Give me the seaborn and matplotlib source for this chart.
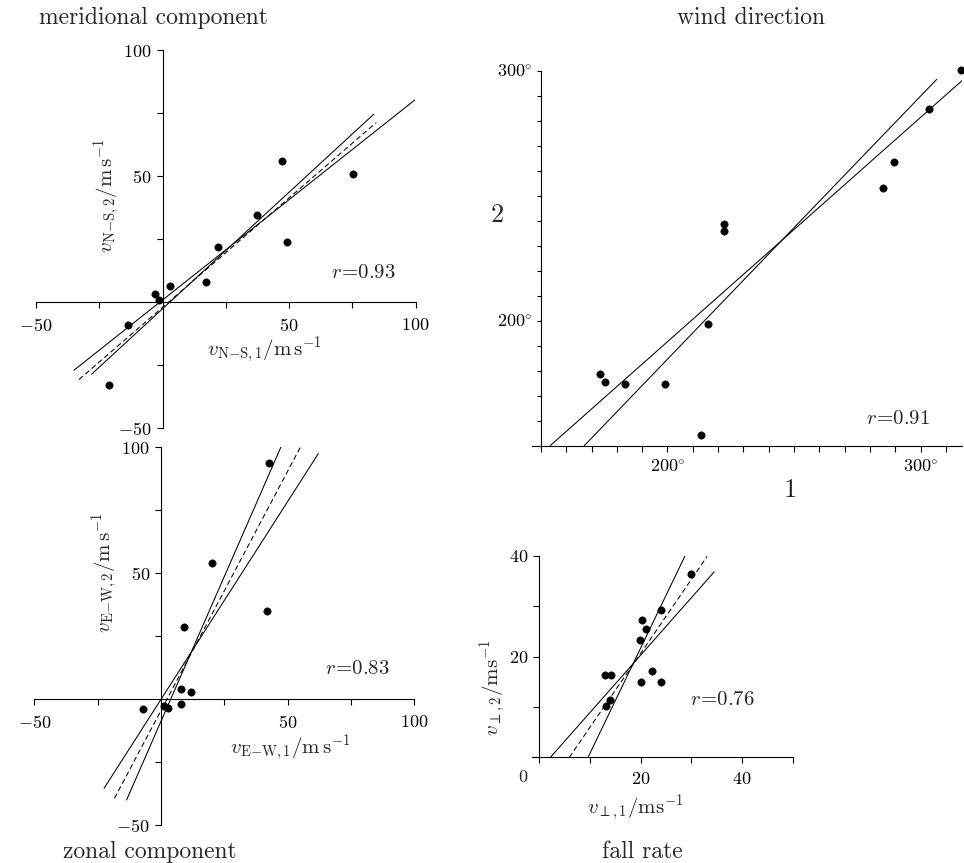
import numpy as np
import pandas as pd
import matplotlib
matplotlib.use("Agg")
import matplotlib.pyplot as plt
from matplotlib.ticker import FixedLocator, FixedFormatter
import seaborn as sns

# ---------------- data ----------------
# meridional component (m/s)
ns_v1 = [-21.1, -13.7, -2.9, -1.2, 3.0, 17.1, 22.0, 37.2, 47.1, 49.2, 75.1]
ns_v2 = [-33.0, -9.0, 3.1, 0.9, 6.4, 8.2, 22.1, 34.5, 56.2, 24.1, 51.1]
ns_fit_x0 = [-35.0, -28.0, -33.0]
ns_fit_x1 = [100.5, 83.5, 84.5]
ns_fit_slope = [0.796, 0.925, 0.868]
ns_fit_icept = [0.9, -2.6, -2.0]
ns_r = "0.93"

# zonal component (m/s)
ew_v1 = [-7.2, 1.2, 2.9, 7.8, 8.0, 12.0, 8.9, 20.3, 42.0, 42.5]
ew_v2 = [-4.0, -2.6, -3.6, -1.9, 4.0, 3.0, 28.8, 54.2, 34.9, 93.7]
ew_fit_x0 = [-13.6, -18.4, -22.5]
ew_fit_x1 = [47.4, 55.1, 62.1]
ew_fit_slope = [2.30, 1.90, 1.571]
ew_fit_icept = [-8.7, -4.4, 0.0]
ew_r = "0.83"

# wind direction (degrees)
dir_1 = [173.2, 175.4, 183.2, 199.1, 213.4, 216.1, 222.3, 222.5, 285.0, 289.4, 303.2, 315.9]
dir_2 = [178.5, 175.6, 174.5, 174.5, 154.1, 198.6, 238.7, 235.8, 253.2, 263.3, 284.5, 300.1]
dir_fit_x0 = [153.6, 167.1]
dir_fit_x1 = [317.2, 306.4]
dir_fit_slope = [0.897, 1.052]
dir_fit_icept = [12.2, -25.8]
dir_r = "0.91"

# fall rate (m/s)
fall_1 = [30.0, 24.0, 20.3, 21.1, 19.8, 12.9, 14.1, 22.2, 20.0, 24.0, 14.0, 13.2]
fall_2 = [36.4, 29.2, 27.2, 25.4, 23.2, 16.3, 16.3, 17.2, 15.0, 15.0, 11.3, 10.2]
fall_fit_x0 = [9.6, 5.9, 2.2]
fall_fit_x1 = [28.8, 33.1, 34.5]
fall_fit_slope = [2.09, 1.467, 1.139]
fall_fit_icept = [-20.1, -8.7, -2.5]
fall_r = "0.76"

# tick values / labels
comp_ticks = [-50, -25, 25, 50, 75, 100]
comp_labels = ["$-50$", "", "", "$50$", "", "$100$"]
dir_ticks = list(range(150, 311, 10))
dir_yticks = list(range(150, 301, 10))
dir_ylabels = ["$200^{\\circ}$" if t == 200 else ("$300^{\\circ}$" if t == 300 else "") for t in dir_yticks]
dir_xlabels = ["$200^{\\circ}$" if t == 200 else ("$300^{\\circ}$" if t == 300 else "") for t in dir_ticks]
fall_xticks = [0, 10, 20, 30, 40, 50]
fall_xlabels = ["", "", "$20$", "", "$40$", ""]
fall_yticks = [0, 10, 20, 30, 40]
fall_ylabels = ["", "", "$20$", "", "$40$"]

# ---------------- styling ----------------
sns.set_theme(style="white")
plt.rcParams["font.family"] = ["cmr10", "DejaVu Serif"]
plt.rcParams["mathtext.fontset"] = "cm"
plt.rcParams["axes.unicode_minus"] = False

W, H = 964, 863
fig = plt.figure(figsize=(W / 100, H / 100), dpi=100)
fig.patch.set_facecolor("white")

LW = 0.8
TICK_FS = 13
R_FS = 15


def rect(l, t, r, b):
    return [l / W, 1 - b / H, (r - l) / W, (b - t) / H]


def style_axes(ax, xpos, ypos, xpad=6.0, ypad=3.5):
    ax.set_facecolor("white")
    for s in ["top", "right"]:
        ax.spines[s].set_visible(False)
    ax.spines["left"].set_position(("data", xpos))
    ax.spines["bottom"].set_position(("data", ypos))
    for s in ["left", "bottom"]:
        ax.spines[s].set_color("black")
        ax.spines[s].set_linewidth(LW)
    ax.tick_params(axis="both", which="both", direction="out", length=4.5, width=LW,
                   colors="black", labelsize=TICK_FS, bottom=True, left=True,
                   top=False, right=False)
    ax.tick_params(axis="x", pad=xpad)
    ax.tick_params(axis="y", pad=ypad)
    ax.grid(False)


def draw_fits(ax, x0s, x1s, slopes, icepts, styles):
    for x0, x1, m, c, ls in zip(x0s, x1s, slopes, icepts, styles):
        xs = np.array([x0, x1])
        if ls == "--":
            ax.plot(xs, m * xs + c, color="black", lw=0.75, ls="--", dashes=(5, 3))
        else:
            ax.plot(xs, m * xs + c, color="black", lw=0.75, ls="-")


def draw_points(ax, x, y):
    df = pd.DataFrame({"x": x, "y": y})
    sns.scatterplot(data=df, x="x", y="y", ax=ax, color="black", s=28,
                    edgecolor="black", linewidth=0.4, clip_on=False, zorder=5)


def r_text(px, py, val):
    fig.text(px / W, 1 - py / H, r"$r\!=\!" + val + "$", fontsize=R_FS,
             ha="center", va="center")


# ---------------- panel 1: meridional ----------------
ax1 = fig.add_axes(rect(36, 50.3, 415.5, 428.3))
draw_fits(ax1, ns_fit_x0, ns_fit_x1, ns_fit_slope, ns_fit_icept, ["-", "-", "--"])
draw_points(ax1, ns_v1, ns_v2)
ax1.set_xlim(-50, 100)
ax1.set_ylim(-50, 100)
style_axes(ax1, 0, 0)
ax1.xaxis.set_major_locator(FixedLocator(comp_ticks))
ax1.xaxis.set_major_formatter(FixedFormatter(comp_labels))
ax1.yaxis.set_major_locator(FixedLocator(comp_ticks))
ax1.yaxis.set_major_formatter(FixedFormatter(comp_labels))
ax1.set_xlabel(r"$v_{\mathrm{N}{-}\mathrm{S},1}/\mathrm{m\,s^{-1}}$", fontsize=15, va="center", ha="center")
ax1.xaxis.set_label_coords(0.601, 0.207)
ax1.set_ylabel(r"$v_{\mathrm{N}{-}\mathrm{S},2}/\mathrm{m\,s^{-1}}$", fontsize=15, va="center", ha="center")
ax1.yaxis.set_label_coords(0.187, 0.617)
r_text(363, 273, ns_r)

# ---------------- panel 2: zonal ----------------
ax2 = fig.add_axes(rect(34.4, 447.5, 414.3, 825.2))
draw_fits(ax2, ew_fit_x0, ew_fit_x1, ew_fit_slope, ew_fit_icept, ["-", "--", "-"])
draw_points(ax2, ew_v1, ew_v2)
ax2.set_xlim(-50, 100)
ax2.set_ylim(-50, 100)
style_axes(ax2, 0, 0)
ax2.xaxis.set_major_locator(FixedLocator(comp_ticks))
ax2.xaxis.set_major_formatter(FixedFormatter(comp_labels))
ax2.yaxis.set_major_locator(FixedLocator(comp_ticks))
ax2.yaxis.set_major_formatter(FixedFormatter(comp_labels))
ax2.set_xlabel(r"$v_{\mathrm{E}{-}\mathrm{W},1}/\mathrm{m\,s^{-1}}$", fontsize=15, va="center", ha="center")
ax2.xaxis.set_label_coords(0.675, 0.204)
ax2.set_ylabel(r"$v_{\mathrm{E}{-}\mathrm{W},2}/\mathrm{m\,s^{-1}}$", fontsize=15, va="center", ha="center")
ax2.yaxis.set_label_coords(0.186, 0.670)
r_text(357, 669, ew_r)

# ---------------- panel 3: wind direction ----------------
ax3 = fig.add_axes(rect(532.1, 70.7, 962, 445.7))
draw_fits(ax3, dir_fit_x0, dir_fit_x1, dir_fit_slope, dir_fit_icept, ["-", "-"])
draw_points(ax3, dir_1, dir_2)
ax3.set_xlim(146.5, 316.4)
ax3.set_ylim(150, 300)
style_axes(ax3, 150, 150, xpad=5.0, ypad=3)
ax3.xaxis.set_major_locator(FixedLocator(dir_ticks))
ax3.xaxis.set_major_formatter(FixedFormatter(dir_xlabels))
ax3.yaxis.set_major_locator(FixedLocator(dir_yticks))
ax3.yaxis.set_major_formatter(FixedFormatter(dir_ylabels))
ax3.tick_params(axis="y", length=3)
ax3.set_xlabel("$1$", fontsize=19, va="center", ha="center")
ax3.xaxis.set_label_coords(0.600, -0.118)
ax3.set_ylabel("$2$", fontsize=19, va="center", ha="center", rotation=0)
ax3.yaxis.set_label_coords(-0.082, 0.615)
r_text(898, 419, dir_r)

# ---------------- panel 4: fall rate ----------------
ax4 = fig.add_axes(rect(531.7, 555.7, 792.8, 757.3))
draw_fits(ax4, fall_fit_x0, fall_fit_x1, fall_fit_slope, fall_fit_icept, ["-", "--", "-"])
draw_points(ax4, fall_1, fall_2)
ax4.set_xlim(-1.5, 50)
ax4.set_ylim(0, 40)
style_axes(ax4, 0, 0, xpad=5.5, ypad=3)
ax4.xaxis.set_major_locator(FixedLocator(fall_xticks))
ax4.xaxis.set_major_formatter(FixedFormatter(fall_xlabels))
ax4.yaxis.set_major_locator(FixedLocator(fall_yticks))
ax4.yaxis.set_major_formatter(FixedFormatter(fall_ylabels))
ax4.annotate("$0$", xy=(0, 0), xytext=(-11.5, -14.5), textcoords="offset points",
             fontsize=TICK_FS, ha="center", va="center")
ax4.set_xlabel(r"$v_{\perp,1}/\mathrm{ms^{-1}}$", fontsize=15, va="center", ha="center")
ax4.xaxis.set_label_coords(0.396, -0.251)
ax4.set_ylabel(r"$v_{\perp,2}/\mathrm{ms^{-1}}$", fontsize=15, va="center", ha="center")
ax4.yaxis.set_label_coords(-0.148, 0.344)
r_text(722, 700, fall_r)

# panel titles
title_kw = dict(fontsize=17, ha="center", va="center", family=["cmr10", "DejaVu Serif"])
fig.text(153 / W, 1 - 18 / H, "meridional component", **title_kw)
fig.text(751 / W, 1 - 18 / H, "wind direction", **title_kw)
fig.text(150 / W, 1 - 852 / H, "zonal component", **title_kw)
fig.text(642 / W, 1 - 852 / H, "fall rate", **title_kw)

fig.savefig("out.png", dpi=100, facecolor="white")
